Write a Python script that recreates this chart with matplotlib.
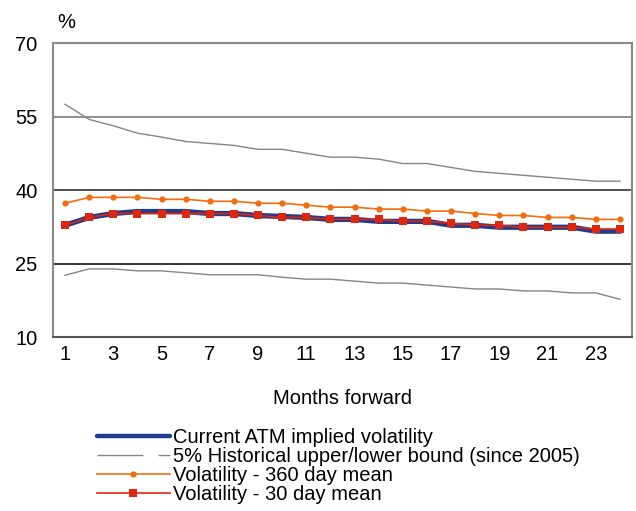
import matplotlib
matplotlib.use("Agg")
import matplotlib.pyplot as plt
from matplotlib.lines import Line2D

plt.rcParams["font.family"] = ["Liberation Sans", "DejaVu Sans"]

months = list(range(1, 25))

atm_implied = [32.8, 34.4, 35.2, 35.6, 35.6, 35.6, 35.2, 35.2, 34.8, 34.6, 34.4, 34.0,
               34.0, 33.6, 33.6, 33.6, 32.8, 32.8, 32.4, 32.4, 32.4, 32.4, 31.6, 31.6]
upper_bound = [57.5, 54.4, 53.1, 51.6, 50.8, 49.9, 49.5, 49.1, 48.3, 48.3, 47.5, 46.7,
               46.7, 46.3, 45.4, 45.4, 44.6, 43.8, 43.4, 43.0, 42.6, 42.2, 41.8, 41.8]
lower_bound = [22.6, 23.9, 23.9, 23.5, 23.5, 23.1, 22.7, 22.7, 22.7, 22.2, 21.8, 21.8,
               21.4, 21.0, 21.0, 20.6, 20.2, 19.8, 19.8, 19.4, 19.4, 19.0, 19.0, 17.7]
mean_360 = [37.3, 38.5, 38.5, 38.5, 38.1, 38.1, 37.7, 37.7, 37.3, 37.3, 36.9, 36.5,
            36.5, 36.1, 36.1, 35.7, 35.7, 35.2, 34.8, 34.8, 34.4, 34.4, 34.0, 34.0]
mean_30 = [32.8, 34.4, 35.2, 35.2, 35.2, 35.2, 35.2, 35.2, 34.8, 34.4, 34.4, 34.0,
           34.0, 34.0, 33.6, 33.6, 33.2, 32.8, 32.8, 32.4, 32.4, 32.4, 32.0, 32.0]

y_ticks = [10, 25, 40, 55, 70]
x_ticks = list(range(1, 25, 2))

labels = ["Current ATM implied volatility",
          "5% Historical upper/lower bound (since 2005)",
          "Volatility - 360 day mean",
          "Volatility - 30 day mean"]

BLUE = "#1f3d8c"
GREY = "#858585"
ORANGE = "#f26d0f"
RED = "#e0260f"
FS = 14.5

fig = plt.figure(figsize=(6.36, 5.11), dpi=100)
ax = fig.add_axes([53 / 636, 1 - 337 / 511, (632 - 53) / 636, (337 - 43) / 511])

# horizontal reference lines
for yv, c in zip([55, 40, 25], ["#7a7a7a", "#333333", "#111111"]):
    ax.axhline(yv, color=c, lw=1.2, zorder=1)

ax.plot(months, upper_bound, color=GREY, lw=1.0, zorder=2)
ax.plot(months, lower_bound, color=GREY, lw=1.0, zorder=2)
ax.plot(months, mean_360, color=ORANGE, lw=1.2, marker="o", ms=4.5,
        markeredgewidth=0, zorder=3)
ax.plot(months, atm_implied, color=BLUE, lw=3.8, solid_capstyle="round",
        solid_joinstyle="round", zorder=4)
ax.plot(months, mean_30, color=RED, lw=1.2, marker="s", ms=5.5,
        markeredgewidth=0, zorder=5)

ax.set_xlim(0.5, 24.5)
ax.set_ylim(10, 70)
ax.set_yticks(y_ticks)
ax.set_xticks(x_ticks)
ax.tick_params(axis="both", length=0, labelsize=FS, colors="black")
ax.tick_params(axis="y", pad=11)
ax.tick_params(axis="x", pad=6)
for side in ["left", "top", "right"]:
    ax.spines[side].set_color("#8a8a8a")
    ax.spines[side].set_linewidth(1.5)
ax.spines["bottom"].set_color("#555555")
ax.spines["bottom"].set_linewidth(1.5)

ax.set_xlabel("Months forward", fontsize=FS, labelpad=18)
fig.text(66 / 636, 1 - 22 / 511, "%", fontsize=FS, ha="center", va="center")

handles = [
    Line2D([], [], color=BLUE, lw=3.2, solid_capstyle="round"),
    Line2D([], [], color=GREY, lw=1.0, dashes=(33, 11, 9, 20)),
    Line2D([], [], color=ORANGE, lw=1.2, marker="o", ms=4.5, markeredgewidth=0),
    Line2D([], [], color=RED, lw=1.2, marker="s", ms=5.5, markeredgewidth=0),
]
fig.legend(handles, labels, loc="upper left",
           bbox_to_anchor=(97 / 636, 1 - 428 / 511),
           frameon=False, fontsize=FS, handlelength=3.6, handletextpad=0.15,
           labelspacing=0.0, borderpad=0.0, borderaxespad=0)

fig.savefig("out.png", dpi=100)
